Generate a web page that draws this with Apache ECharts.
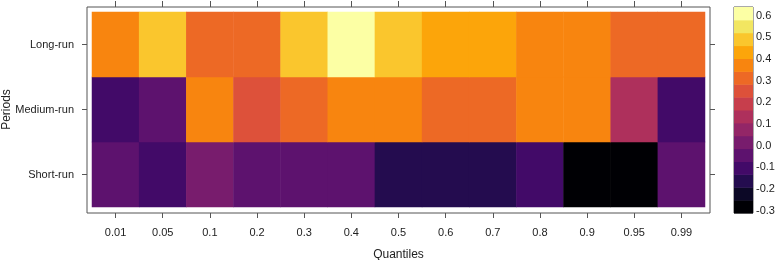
<!DOCTYPE html>
<html>
<head>
<meta charset="utf-8">
<script src="https://cdn.jsdelivr.net/npm/echarts@6/dist/echarts.min.js"></script>
<style>
  html, body { margin: 0; padding: 0; background: #fff; }
  #chart { width: 780px; height: 260px; }
</style>
</head>
<body>
<div id="chart"></div>
<script>
// levelplot: quantile coefficients by horizon
const quantiles = ['0.01', '0.05', '0.1', '0.2', '0.3', '0.4', '0.5', '0.6', '0.7', '0.8', '0.9', '0.95', '0.99'];
const periods = ['Short-run', 'Medium-run', 'Long-run'];

const longRun   = [0.37, 0.49, 0.31, 0.31, 0.50, 0.64, 0.49, 0.43, 0.43, 0.37, 0.37, 0.31, 0.31];
const mediumRun = [-0.10, -0.04, 0.37, 0.25, 0.31, 0.37, 0.37, 0.31, 0.31, 0.37, 0.37, 0.14, -0.10];
const shortRun  = [-0.04, -0.10, 0.02, -0.04, -0.04, -0.04, -0.16, -0.16, -0.16, -0.10, -0.31, -0.30, -0.04];

const legendTicks = [-0.3, -0.2, -0.1, 0.0, 0.1, 0.2, 0.3, 0.4, 0.5, 0.6];

// inferno, 16 levels (lattice cuts = 15)
const inferno = ['#000004', '#0C0826', '#240C4F', '#420A68', '#5D126E', '#781C6D', '#932667', '#AE305C',
                 '#C73E4C', '#DD513A', '#ED6925', '#F8850F', '#FCA50A', '#FAC62D', '#F2E661', '#FCFFA4'];

const zMin = -0.31, zMax = 0.64;
const step = (zMax - zMin) / inferno.length;
const breaks = inferno.map((c, i) => [zMin + i * step, zMin + (i + 1) * step]);

const rows = [shortRun, mediumRun, longRun];
const cells = [];
rows.forEach((vals, r) => vals.forEach((v, q) => cells.push([q, r, v])));

const FONT = 'Liberation Sans';
const FRAME = '#555';

const chart = echarts.init(document.getElementById('chart'));

chart.setOption({
    animation: false,
    textStyle: { fontFamily: FONT },
    grid: [
        // outer box
        { left: 87, top: 7, width: 623, height: 206, show: true, borderColor: FRAME, borderWidth: 1,
          backgroundColor: 'transparent', outerBoundsMode: 'none', containLabel: false },
        // cell area (inset)
        { left: 92, top: 12, width: 613, height: 195, outerBoundsMode: 'none', containLabel: false },
        // colour key
        { left: 734, top: 7, width: 19, height: 206, show: true, borderColor: FRAME, borderWidth: 1,
          outerBoundsMode: 'none', containLabel: false }
    ],
    xAxis: [
        { gridIndex: 0, type: 'value', min: 0, max: 1, show: false },
        {
            gridIndex: 1, type: 'category', data: quantiles, position: 'bottom', offset: 6,
            axisLine: { show: false },
            axisTick: { show: true, alignWithLabel: true, length: 5, lineStyle: { color: FRAME } },
            axisLabel: { color: '#222', fontSize: 11, margin: 14 },
            name: 'Quantiles', nameLocation: 'middle', nameGap: 36, nameMoveOverlap: false,
            nameTextStyle: { color: '#222', fontSize: 12 }
        },
        {
            gridIndex: 1, type: 'category', data: quantiles, position: 'top', offset: 5,
            axisLine: { show: false },
            axisTick: { show: true, alignWithLabel: true, length: 6, lineStyle: { color: FRAME } },
            axisLabel: { show: false }
        },
        { gridIndex: 2, type: 'value', min: 0, max: 1, show: false }
    ],
    yAxis: [
        { gridIndex: 0, type: 'value', min: 0, max: 1, show: false },
        {
            gridIndex: 1, type: 'category', data: periods, position: 'left', offset: 5,
            axisLine: { show: false },
            axisTick: { show: true, alignWithLabel: true, length: 5, lineStyle: { color: FRAME } },
            axisLabel: { color: '#222', fontSize: 11, margin: 13 },
            name: 'Periods', nameLocation: 'middle', nameGap: 74, nameRotate: 90, nameMoveOverlap: false,
            nameTextStyle: { color: '#222', fontSize: 12 }
        },
        {
            gridIndex: 1, type: 'category', data: periods, position: 'right', offset: 5,
            axisLine: { show: false },
            axisTick: { show: true, alignWithLabel: true, length: 5, lineStyle: { color: FRAME } },
            axisLabel: { show: false }
        },
        {
            gridIndex: 2, type: 'value', min: zMin, max: zMax, position: 'right',
            axisLine: { show: false },
            splitLine: { show: false },
            axisTick: { show: true, length: 3, customValues: legendTicks, lineStyle: { color: FRAME } },
            axisLabel: {
                color: '#222', fontSize: 11, margin: 3, customValues: legendTicks,
                formatter: v => v.toFixed(1)
            }
        }
    ],
    visualMap: {
        type: 'piecewise', show: false, seriesIndex: 0, dimension: 2,
        pieces: breaks.map(([lo, hi], i) => ({
            gte: i === 0 ? -10 : lo,
            lt: i === breaks.length - 1 ? 10 : hi,
            color: inferno[i]
        }))
    },
    series: [
        {
            type: 'heatmap', xAxisIndex: 1, yAxisIndex: 1, data: cells,
            itemStyle: { borderWidth: 0 },
            emphasis: { disabled: true }
        },
        {
            type: 'custom', xAxisIndex: 3, yAxisIndex: 3, silent: true,
            data: breaks.map(([lo, hi], i) => [lo, hi, i]),
            renderItem: (params, api) => {
                const p0 = api.coord([0, api.value(1)]);
                const p1 = api.coord([1, api.value(0)]);
                return {
                    type: 'rect',
                    shape: { x: p0[0], y: p0[1], width: p1[0] - p0[0], height: p1[1] - p0[1] + 0.5 },
                    style: { fill: inferno[api.value(2)] }
                };
            }
        }
    ]
});
</script>
</body>
</html>
